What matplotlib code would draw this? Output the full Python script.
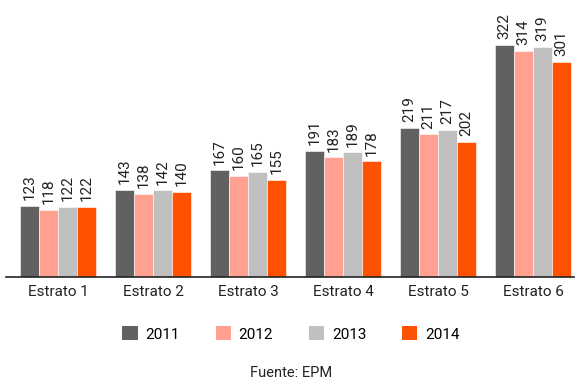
import matplotlib
matplotlib.use("Agg")
import matplotlib.pyplot as plt
import numpy as np
from matplotlib.patches import Patch

plt.rcParams['font.family'] = ['Roboto', 'DejaVu Sans']

categories = ["Estrato 1", "Estrato 2", "Estrato 3", "Estrato 4", "Estrato 5", "Estrato 6"]
years = ["2011", "2012", "2013", "2014"]
v2011 = [123, 143, 167, 191, 219, 322]
v2012 = [118, 138, 160, 183, 211, 314]
v2013 = [122, 142, 165, 189, 217, 319]
v2014 = [122, 140, 155, 178, 202, 301]
series = [v2011, v2012, v2013, v2014]
colors = ["#616161", "#FFA090", "#C0C0C0", "#FF5200"]

fig = plt.figure(figsize=(5.77, 3.83), dpi=100)
ax = fig.add_axes([6/577, 1 - 277/383, 568/577, 277/383])

x = np.arange(len(categories))
w = 0.2
for i, (vals, c) in enumerate(zip(series, colors)):
    pos = x + (i - 1.5) * w
    ax.bar(pos, vals, width=w, color=c, edgecolor="white", linewidth=0.4, zorder=2)
    for xp, v in zip(pos, vals):
        ax.annotate(str(v), (xp, v), xytext=(0, 4), textcoords="offset points",
                    rotation=90, ha="center", va="bottom", fontsize=11, color="#222222")

ax.set_ylim(35, 377)
ax.set_xlim(-0.547, 5.43)
for s in ["top", "right", "left"]:
    ax.spines[s].set_visible(False)
ax.spines["bottom"].set_color("#222222")
ax.spines["bottom"].set_linewidth(1.2)
ax.set_yticks([])
ax.set_xticks(x)
ax.set_xticklabels(categories, fontsize=11, color="#222222")
ax.tick_params(axis="x", length=0, pad=6)

handles = [Patch(facecolor=c, edgecolor="none") for c in colors]
fig.legend(handles, years, loc="center", bbox_to_anchor=(291/577, 1 - 334/383), ncol=4,
           frameon=False, fontsize=11, handlelength=1.0, handleheight=1.0,
           handletextpad=0.5, columnspacing=2.35)
fig.text(291/577, 1 - 373/383, "Fuente: EPM", ha="center", va="center", fontsize=10.5, color="#222222")

fig.savefig("out.png", dpi=100)
